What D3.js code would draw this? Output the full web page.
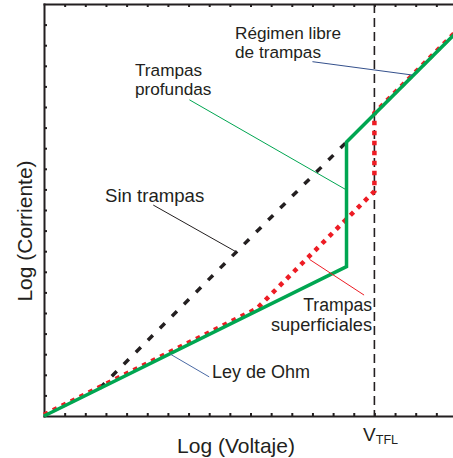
<!DOCTYPE html>
<html>
<head>
<meta charset="utf-8">
<script src="https://cdn.jsdelivr.net/npm/d3@7"></script>
<style>
    body { margin: 0; background: #fff; }
    svg text { font-family: "Liberation Sans", Arial, Helvetica, sans-serif; fill: #231f20; }
</style>
</head>
<body>
<div id="chart"></div>
<script>

// curves in log units (one tick = one unit)

// deep traps (green, solid)
const deepV = [0, 14.65, 14.65, 20.3]
const deepI = [0, 7.25, 13.3, 18.95]

// shallow traps (red, dotted)
const shallowV = [0, 10.3, 16.0, 16.0, 20.3]
const shallowI = [0, 5.15, 10.85, 14.65, 18.95]

// trap free SCLC (black, dashed)
const freeV = [2.7, 14.65]
const freeI = [1.35, 13.3]

const vTFL = 16

const xTicks = d3.range(1, 20)
const yTicks = d3.range(1, 20)

// chart size

const outerWidth = 453
const outerHeight = 458

const marginLeft = 44
const marginTop = 4
const plotRight = 457
const plotBottom = 416

const ink = "#231f20"
const green = "#00a651"
const red = "#ed1c24"

const svg = d3.select("#chart").append("svg")
    .attr("width", outerWidth)
    .attr("height", outerHeight)

const xScale = d3.scaleLinear()
    .domain([0, 20])
    .range([marginLeft, plotRight])
const yScale = d3.scaleLinear()
    .domain([0, 20])
    .range([plotBottom, marginTop])

// axes, ticks point inward

const styleAxis = g => {
    g.selectAll("path.domain").attr("stroke", ink).attr("stroke-width", 2).attr("stroke-linecap", "square")
    g.selectAll(".tick line").attr("stroke", ink).attr("stroke-width", 2)
}

svg.append("g")
    .attr("transform", "translate(0," + plotBottom + ")")
    .call(d3.axisBottom(xScale).tickValues(xTicks).tickSize(-3).tickSizeOuter(0).tickFormat(""))
    .call(styleAxis)

svg.append("g")
    .attr("transform", "translate(0," + marginTop + ")")
    .call(d3.axisTop(xScale).tickValues(xTicks).tickSize(-3).tickSizeOuter(0).tickFormat(""))
    .call(styleAxis)

svg.append("g")
    .attr("transform", "translate(" + marginLeft + ",0)")
    .call(d3.axisLeft(yScale).tickValues(yTicks).tickSize(-3).tickSizeOuter(0).tickFormat(""))
    .call(styleAxis)

// V_TFL marker

svg.append("line")
    .attr("x1", xScale(vTFL)).attr("x2", xScale(vTFL))
    .attr("y1", yScale(20)).attr("y2", yScale(0))
    .attr("stroke", ink)
    .attr("stroke-width", 1.6)
    .attr("stroke-dasharray", "9,5")

// curves

const line = d3.line()
    .x(d => xScale(d[0]))
    .y(d => yScale(d[1]))

svg.append("path")
    .datum(d3.zip(freeV, freeI))
    .attr("d", line)
    .attr("fill", "none")
    .attr("stroke", ink)
    .attr("stroke-width", 3.5)
    .attr("stroke-dasharray", "7,10")

svg.append("path")
    .datum(d3.zip(shallowV, shallowI))
    .attr("d", line)
    .attr("transform", "translate(0,-1.2)")
    .attr("fill", "none")
    .attr("stroke", red)
    .attr("stroke-width", 4.5)
    .attr("stroke-dasharray", "4.5,5.5")

svg.append("path")
    .datum(d3.zip(deepV, deepI))
    .attr("d", line)
    .attr("fill", "none")
    .attr("stroke", green)
    .attr("stroke-width", 3.5)
    .attr("stroke-linejoin", "miter")

// leader lines, [from, to] in log units

const leaders = [
    {from: [13.0, 17.2], to: [17.85, 16.55], color: "#34508c"},
    {from: [7.04, 15.35], to: [14.6, 11.0], color: green},
    {from: [5.29, 10.24], to: [9.32, 7.96], color: ink},
    {from: [6.12, 3.0], to: [8.0, 1.9], color: "#4a6aa5"},
    {from: [12.86, 7.6], to: [15.5, 5.87], color: red}
]

svg.selectAll(".leader")
    .data(leaders)
    .enter().append("line")
    .attr("class", "leader")
    .attr("x1", d => xScale(d.from[0])).attr("y1", d => yScale(d.from[1]))
    .attr("x2", d => xScale(d.to[0])).attr("y2", d => yScale(d.to[1]))
    .attr("stroke", d => d.color)
    .attr("stroke-width", 1)

// labels

const addText = (x, y, size, str, anchor) => svg.append("text")
    .attr("x", x).attr("y", y)
    .attr("text-anchor", anchor || "start")
    .style("font-size", size + "px")
    .text(str)

addText(235, 38.5, 17.2, "Régimen libre")
addText(235, 57.5, 17.2, "de trampas")
addText(135, 75.5, 17.2, "Trampas")
addText(135, 94.5, 17.2, "profundas")
addText(105, 201.7, 18.6, "Sin trampas")
addText(372, 311, 17.6, "Trampas", "end")
addText(372, 331, 18.2, "superficiales", "end")
addText(212, 378.3, 18, "Ley de Ohm")

addText(236, 453, 21, "Log (Voltaje)", "middle")

svg.append("text")
    .attr("transform", "translate(31.5,231) rotate(-90)")
    .attr("text-anchor", "middle")
    .style("font-size", "21px")
    .text("Log (Corriente)")

const vt = svg.append("text")
    .attr("x", 363)
    .attr("y", 441)
    .style("font-size", "19px")
vt.append("tspan").text("V")
vt.append("tspan")
    .attr("dy", 3.3)
    .style("font-size", "12.6px")
    .text("TFL")

</script>
</body>
</html>
